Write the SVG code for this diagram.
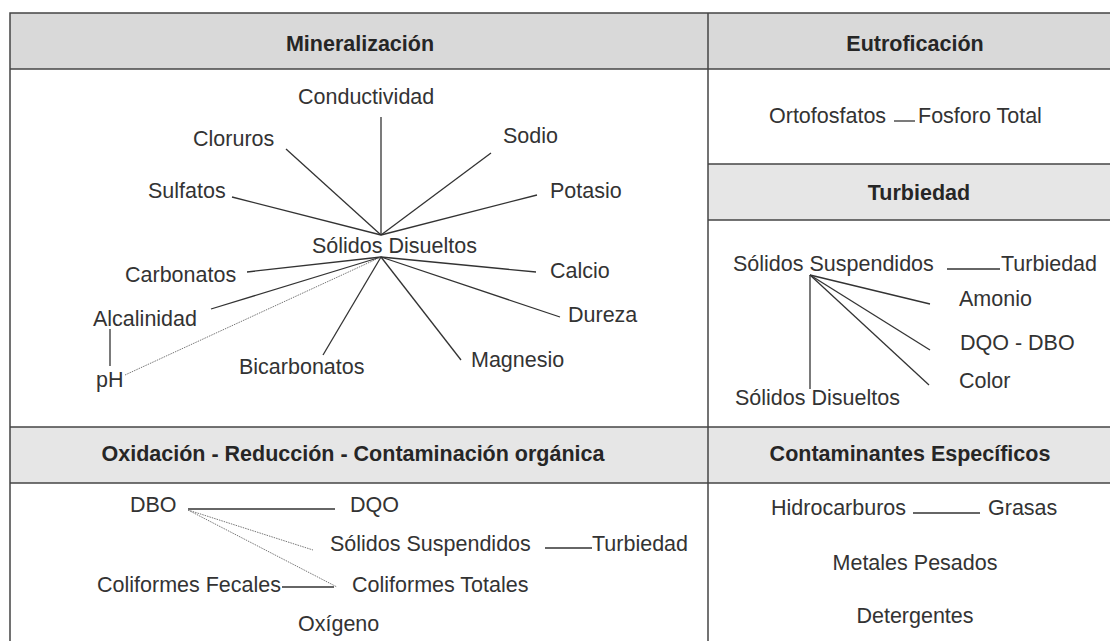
<svg xmlns="http://www.w3.org/2000/svg" width="1110" height="641" viewBox="0 0 1110 641">
<style>
text{font-family:"Liberation Sans",Arial,sans-serif;font-size:21.5px;fill:#333}
.h{font-weight:bold;fill:#262626;text-anchor:middle}
.c{text-anchor:middle}
.ln{stroke:#333;stroke-width:1.3;fill:none}
.dt{stroke:#777;stroke-width:1;stroke-dasharray:1.5 1;fill:none}
.bd{stroke:#444;stroke-width:1.5;fill:none}
</style>
<rect width="1110" height="641" fill="#fff"/>
<g id="table">
<rect x="10" y="13" width="1115" height="56" fill="#d9d9d9"/>
<rect x="708" y="164" width="420" height="56" fill="#e6e6e6"/>
<rect x="10" y="427" width="1115" height="56" fill="#e6e6e6"/>
<rect x="10" y="13" width="1115" height="640" class="bd"/>
<line x1="708" y1="13" x2="708" y2="653" class="bd"/>
<line x1="10" y1="69" x2="1125" y2="69" class="bd"/>
<line x1="708" y1="164" x2="1125" y2="164" class="bd"/>
<line x1="708" y1="220" x2="1125" y2="220" class="bd"/>
<line x1="10" y1="427" x2="1125" y2="427" class="bd"/>
<line x1="10" y1="483" x2="1125" y2="483" class="bd"/>
</g>
<g id="headers">
<text class="h" x="360" y="51">Mineralización</text>
<text class="h" x="915" y="51">Eutroficación</text>
<text class="h" x="919" y="200">Turbiedad</text>
<text class="h" x="353" y="461">Oxidación - Reducción - Contaminación orgánica</text>
<text class="h" x="910" y="461">Contaminantes Específicos</text>
</g>
<g id="connectors">
<line x1="381" y1="117" x2="381" y2="235" class="ln"/>
<line x1="286" y1="149" x2="381" y2="235" class="ln"/>
<line x1="232" y1="197" x2="381" y2="235" class="ln"/>
<line x1="491" y1="153" x2="381" y2="235" class="ln"/>
<line x1="537" y1="195" x2="381" y2="235" class="ln"/>
<line x1="247" y1="272" x2="381" y2="257" class="ln"/>
<line x1="211" y1="309" x2="381" y2="257" class="ln"/>
<line x1="110" y1="329" x2="110" y2="366" class="ln"/>
<line x1="125" y1="375" x2="381" y2="257" class="dt"/>
<line x1="323" y1="355" x2="381" y2="257" class="ln"/>
<line x1="536" y1="272" x2="381" y2="257" class="ln"/>
<line x1="560" y1="317" x2="381" y2="257" class="ln"/>
<line x1="461" y1="360" x2="381" y2="257" class="ln"/>
<line x1="894" y1="121" x2="915" y2="121" class="ln"/>
<line x1="947" y1="269" x2="1000" y2="269" class="ln"/>
<line x1="810" y1="275" x2="810" y2="389" class="ln"/>
<line x1="810" y1="275" x2="930" y2="304" class="ln"/>
<line x1="810" y1="275" x2="930" y2="350" class="ln"/>
<line x1="810" y1="275" x2="929" y2="385" class="ln"/>
<line x1="188" y1="509" x2="335" y2="509" class="ln"/>
<line x1="188" y1="510" x2="313" y2="550" class="dt"/>
<line x1="188" y1="510" x2="337" y2="587" class="dt"/>
<line x1="282" y1="587" x2="334" y2="587" class="ln"/>
<line x1="545" y1="548" x2="592" y2="548" class="ln"/>
<line x1="913" y1="513" x2="980" y2="513" class="ln"/>
</g>
<g id="mineralizacion">
<text x="298" y="104">Conductividad</text>
<text x="193" y="146">Cloruros</text>
<text x="148" y="198">Sulfatos</text>
<text x="503" y="143">Sodio</text>
<text x="550" y="198">Potasio</text>
<text x="312" y="253">Sólidos Disueltos</text>
<text x="125" y="282">Carbonatos</text>
<text x="93" y="326">Alcalinidad</text>
<text x="96" y="387">pH</text>
<text x="239" y="374">Bicarbonatos</text>
<text x="550" y="278">Calcio</text>
<text x="568" y="322">Dureza</text>
<text x="471" y="367">Magnesio</text>
</g>
<g id="eutroficacion">
<text x="769" y="123">Ortofosfatos</text>
<text x="918" y="123">Fosforo Total</text>
</g>
<g id="turbiedad">
<text x="733" y="271">Sólidos Suspendidos</text>
<text x="1001" y="271">Turbiedad</text>
<text x="959" y="306">Amonio</text>
<text x="960" y="350">DQO - DBO</text>
<text x="959" y="388">Color</text>
<text x="735" y="405">Sólidos Disueltos</text>
</g>
<g id="oxidacion">
<text x="130" y="512">DBO</text>
<text x="350" y="512">DQO</text>
<text x="330" y="551">Sólidos Suspendidos</text>
<text x="592" y="551">Turbiedad</text>
<text x="97" y="592">Coliformes Fecales</text>
<text x="352" y="592">Coliformes Totales</text>
<text x="298" y="631">Oxígeno</text>
</g>
<g id="contaminantes">
<text x="771" y="515">Hidrocarburos</text>
<text x="988" y="515">Grasas</text>
<text class="c" x="915" y="570">Metales Pesados</text>
<text class="c" x="915" y="623">Detergentes</text>
</g>
</svg>
